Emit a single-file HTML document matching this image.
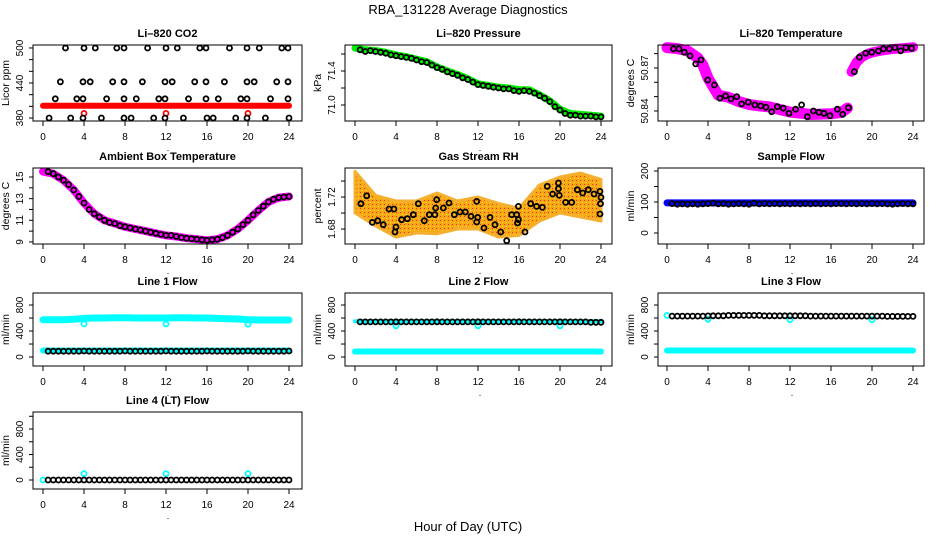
<!DOCTYPE html>
<html><head><meta charset="utf-8"><style>
html,body{margin:0;padding:0;background:#fff;}
svg{display:block;font-family:"Liberation Sans",Arial,sans-serif;}
</style></head><body>
<svg id="fig" width="936" height="540" viewBox="0 0 936 540" xmlns="http://www.w3.org/2000/svg">
<defs>
<pattern id="rhpat" width="4" height="4" patternUnits="userSpaceOnUse">
<rect width="4" height="4" fill="#f5a818"/>
<rect x="0" y="0" width="1" height="1" fill="#ee3010"/>
<rect x="2" y="2" width="1" height="1" fill="#ffe020"/>
</pattern>
</defs>
<rect x="0" y="0" width="936" height="540" fill="#fff"/>
<text x="468" y="14" text-anchor="middle" font-size="13">RBA_131228  Average Diagnostics</text>
<text x="468" y="531" text-anchor="middle" font-size="13">Hour of Day (UTC)</text>
</svg>
<script>
// ---------- data ----------
const xTicks = [0,4,8,12,16,20,24];
const halfHours = [0.5,1,1.5,2,2.5,3,3.5,4,4.5,5,5.5,6,6.5,7,7.5,8,8.5,9,9.5,10,10.5,11,11.5,12,12.5,13,13.5,14,14.5,15,15.5,16,16.5,17,17.5,18,18.5,19,19.5,20,20.5,21,21.5,22,22.5,23,23.5,24];
const hourly = [0,1,2,3,4,5,6,7,8,9,10,11,12,13,14,15,16,17,18,19,20,21,22,23,24];
const calHours = [4,12,20];

// CO2
const co2Hours = [2.2,4.0,5.1,7.2,7.9,10.2,12.0,13.1,15.3,15.9,18.2,19.9,21.1,23.3,23.9,
  1.7,3.9,4.6,6.8,7.9,9.7,11.9,12.6,14.8,15.9,17.7,19.9,20.6,22.8,23.9,
  1.2,3.3,3.9,6.2,7.9,9.1,11.3,11.9,14.2,15.9,17.1,19.3,19.9,22.2,23.9,
  0.6,2.7,3.9,5.7,7.9,8.6,10.8,11.9,13.7,16.0,16.6,18.8,19.9,21.7,24.0];
const co2Values = [500,500,500,500,500,500,500,500,500,500,500,500,500,500,500,
  442,442,442,442,442,442,442,442,442,442,442,442,442,442,442,
  413,413,413,413,413,413,413,413,413,413,413,413,413,413,413,
  380,380,380,380,380,380,380,380,380,380,380,380,380,380,380];
const co2BandHours = [0,24];
const co2BandValues = [401,401];
const co2CalValues = [388,388,388];

// Pressure
const presBand = [71.67,71.65,71.64,71.62,71.59,71.57,71.54,71.51,71.45,71.40,71.36,71.31,71.25,71.23,71.21,71.20,71.18,71.18,71.12,71.05,70.95,70.90,70.89,70.88,70.87];
const presPts = [71.65,71.63,71.64,71.63,71.62,71.61,71.59,71.58,71.57,71.56,71.55,71.53,71.51,71.50,71.47,71.44,71.42,71.39,71.37,71.35,71.32,71.30,71.27,71.24,71.23,71.22,71.21,71.20,71.19,71.19,71.17,71.16,71.17,71.16,71.14,71.11,71.08,71.04,70.98,70.94,70.90,70.88,70.88,70.87,70.87,70.87,70.86,70.86];

// Li-820 Temperature
const tempBandHours1 = [0,1,2,3,3.5,4,4.5,5,6,7,8,9,10,11,12,13,14,15,16,17,17.6];
const tempBand1 = [50.8842,50.8835,50.8820,50.8770,50.8720,50.8630,50.8570,50.8510,50.8495,50.8465,50.8445,50.8435,50.8428,50.8410,50.8392,50.8385,50.8375,50.8378,50.8380,50.8390,50.8420];
const tempBandHours2 = [18,18.5,19,19.5,20,21,22,23,24];
const tempBand2 = [50.8674,50.8740,50.8775,50.8795,50.8808,50.8822,50.8832,50.8838,50.8845];
const tempPtHours = [0.62,1.17,1.69,2.24,2.80,3.32,3.97,4.62,5.17,5.72,6.24,6.80,7.28,7.93,8.58,9.14,9.66,10.21,10.76,11.35,11.90,12.55,13.13,13.69,14.28,14.83,15.32,15.90,16.62,17.14,17.70,18.28,18.77,19.39,19.97,20.62,21.11,21.69,22.24,22.79,23.31,23.86];
const tempPts = [50.8833,50.8833,50.8810,50.8784,50.8728,50.8756,50.8616,50.8581,50.8489,50.8505,50.8484,50.8500,50.8449,50.8461,50.8442,50.8435,50.8426,50.8395,50.8430,50.8419,50.8384,50.8412,50.8442,50.8360,50.8400,50.8391,50.8384,50.8367,50.8412,50.8377,50.8423,50.8674,50.8775,50.8803,50.8810,50.8818,50.8833,50.8833,50.8842,50.8819,50.8842,50.8837];

// Ambient box temperature
const ambPts = [15.5,15.3,15.0,14.7,14.3,13.8,13.2,12.6,12.0,11.6,11.3,11.0,10.8,10.7,10.5,10.4,10.3,10.2,10.1,10.0,9.9,9.8,9.7,9.6,9.6,9.5,9.4,9.35,9.3,9.25,9.2,9.15,9.2,9.25,9.4,9.6,9.9,10.2,10.6,11.0,11.5,11.9,12.3,12.7,12.95,13.1,13.15,13.2];
const ambBand = [15.5,15.3,14.7,13.8,12.6,11.6,11.0,10.7,10.4,10.2,10.0,9.8,9.6,9.5,9.35,9.25,9.15,9.25,9.6,10.2,11.0,11.9,12.7,13.1,13.2];

// Gas stream RH
const rhBandHours = [0,2,4,6,8,10,12,14,16,18,20,22,24];
const rhBandHigh = [1.752,1.722,1.715,1.715,1.725,1.715,1.720,1.712,1.706,1.735,1.745,1.750,1.742];
const rhBandLow = [1.700,1.684,1.670,1.675,1.674,1.680,1.680,1.670,1.672,1.690,1.700,1.695,1.690];
const rhPtHours = [0.58,1.14,1.69,2.21,2.76,3.32,3.80,3.90,4.0,4.55,5.11,5.69,6.18,6.76,7.25,7.80,7.87,7.97,8.62,9.17,9.69,10.24,10.76,11.32,11.87,11.97,11.87,12.59,13.17,13.66,14.21,14.80,15.29,15.78,15.94,15.94,15.85,16.59,17.14,17.72,18.28,18.76,19.28,19.84,19.84,19.93,20.55,21.14,21.69,22.21,22.76,23.32,23.90,24.0,23.95,23.90];
const rhPts = [1.7117,1.7216,1.6883,1.6904,1.6854,1.705,1.705,1.6763,1.6825,1.6917,1.6929,1.6979,1.7117,1.6904,1.6979,1.6979,1.7063,1.7167,1.7063,1.7125,1.6979,1.7013,1.7013,1.6958,1.7146,1.6946,1.6888,1.6813,1.6946,1.6854,1.6763,1.6654,1.6979,1.6979,1.6917,1.7083,1.6875,1.6763,1.7117,1.7083,1.7071,1.7334,1.7238,1.7375,1.7304,1.7221,1.7133,1.7133,1.7292,1.725,1.7292,1.7238,1.7271,1.7196,1.7117,1.6988];

// Sample flow
const sampBand = [97,97];
const sampPts = [95,93,94,93,94,93,94,95,96,94,95,93,94,95,94,93,96,94,95,94,95,94,95,94,95,94,95,94,95,94,95,94,95,95,94,95,94,95,94,95,94,95,94,93,94,95,94,94];

// Line flows
const l1Band = [575,575,575,580,595,600,600,605,605,600,600,600,600,605,605,600,600,595,590,585,575,570,570,570,570];
const l1Cal = [510,508,505];
const l1LowBand = [100,100];
const l1Pts = [90,90,90,90,90,90,90,92,90,90,90,90,90,90,90,92,90,90,90,90,90,90,90,92,90,90,90,90,90,90,90,92,90,90,90,90,90,90,90,92,90,90,90,90,90,90,90,92];
const l2Pts = [540,540,540,540,540,540,540,542,540,540,540,540,540,540,540,542,540,540,540,540,540,540,540,542,540,540,540,540,540,540,540,542,540,540,540,540,540,540,540,542,540,540,540,540,540,535,535,535];
const l2LowBand = [85,85];
const l2Cal = [480,480,480];
const l2StartBand = [550,550];
const l3Pts = [630,630,630,630,630,630,630,632,635,635,635,640,640,640,640,640,640,640,635,635,635,635,635,635,635,635,635,630,630,630,630,630,630,630,630,630,630,630,630,630,630,630,625,625,625,625,625,625];
const l3LowBand = [100,100];
const l3Cal = [580,575,575];
const l3StartValue = [640];
const l4Pts = [0,0,0,0,0,0,0,0,0,0,0,0,0,0,0,0,0,0,0,0,0,0,0,0,0,0,0,0,0,0,0,0,0,0,0,0,0,0,0,0,0,0,0,0,0,0,0,0];
const l4Cal = [100,100,100];
const l4StartValue = [0];
const bandEnds = [0,24];
const startHour = [0];

// ---------- drawing ----------
const NS = 'http://www.w3.org/2000/svg';
const svg = document.getElementById('fig');
const cols = [{l:33,r:302,x0:43},{l:345,r:612,x0:355},{l:658,r:924,x0:667}];
const rows = [{t:45,b:121},{t:168,b:244},{t:293,b:366},{t:412,b:489}];
const XS = 10.25;

function mk(tag, attrs, parent){
  const e = document.createElementNS(NS, tag);
  for (const k in attrs) e.setAttribute(k, attrs[k]);
  (parent||svg).appendChild(e);
  return e;
}

function panel(p){
  const c = cols[p.col], r = rows[p.row];
  const g = mk('g', {});
  
  
  const sx = h => c.x0 + h*XS;
  const sy = v => r.b - (v - p.ymin)/(p.ymax - p.ymin)*(r.b - r.t);
  p.layers.forEach(L => {
    if (L.type === 'band'){
      const pts = L.x.map((h,i)=> sx(h).toFixed(1)+','+sy(L.y[i]).toFixed(1)).join(' ');
      const e = mk('polyline', {points:pts, fill:'none', stroke:L.color, 'stroke-width':L.w, 'stroke-linejoin':'round', 'stroke-linecap':'round'}, g);
      
      
    } else if (L.type === 'poly'){
      const up = L.x.map((h,i)=> sx(h).toFixed(1)+','+sy(L.hi[i]).toFixed(1));
      const dn = L.x.map((h,i)=> sx(h).toFixed(1)+','+sy(L.lo[i]).toFixed(1)).reverse();
      const e = mk('polygon', {points:up.concat(dn).join(' '), fill:L.color, stroke:L.stroke, 'stroke-width':3, 'stroke-linejoin':'round'}, g);
      
      
    } else {
      const pg = mk('g', {}, g);
      
      
      L.x.forEach((h,i)=>{
        const e = mk('circle', {cx:sx(h).toFixed(1), cy:sy(L.y[i]).toFixed(1), r:L.r||2.5, fill:'none', stroke:L.color, 'stroke-width':L.sw||1.8}, pg);
        
        
      });
    }
  });
  const bx = mk('rect', {x:c.l, y:r.t, width:c.r-c.l, height:r.b-r.t, fill:'none', stroke:'#000', 'stroke-width':1}, g);
  
  
  const tt = mk('text', {x:(c.l+c.r)/2, y:r.t-8, 'text-anchor':'middle', 'font-size':11, 'font-weight':'bold'}, g);
  tt.textContent = p.title;
  
  
  mk('line', {x1:sx(0), x2:sx(24), y1:r.b, y2:r.b, stroke:'#000'}, g);
  xTicks.forEach(h=>{
    mk('line', {x1:sx(h), x2:sx(h), y1:r.b, y2:r.b+5, stroke:'#000'}, g);
    const t = mk('text', {x:sx(h), y:r.b+19, 'text-anchor':'middle', 'font-size':10}, g);
    t.textContent = h;
    
    
  });
  const dot = mk('text', {x:sx(12)+2, y:r.b+30, 'text-anchor':'middle', 'font-size':9}, g);
  dot.textContent = '.';
  const tv = p.ticks.filter(v=> v>=p.ymin-1e-9 && v<=p.ymax+1e-9);
  mk('line', {x1:c.l, x2:c.l, y1:sy(tv[0]), y2:sy(tv[tv.length-1]), stroke:'#000'}, g);
  tv.forEach(v=>{
    mk('line', {x1:c.l-4, x2:c.l, y1:sy(v), y2:sy(v), stroke:'#000'}, g);
  });
  p.labels.forEach(v=>{
    const t = mk('text', {x:0, y:0, 'text-anchor':'middle', 'font-size':10, transform:`translate(${c.l-10},${sy(v)}) rotate(-90)`}, g);
    t.textContent = p.fmt ? v.toFixed(p.fmt) : v;
    
    
  });
  const yt = mk('text', {x:0, y:0, 'text-anchor':'middle', 'font-size':10.5, transform:`translate(${c.l-24},${(r.t+r.b)/2}) rotate(-90)`}, g);
  yt.textContent = p.ylab;
  
  
}

const flowTicks = [0,200,400,600,800,1000];
const flowLabels = [0,400,800];

panel({name:'co2-panel', title:'Li\u2013820 CO2', ylab:'Licor ppm', col:0,row:0, ymin:374.9,ymax:505.1,
  ticks:[380,400,420,440,460,480,500], labels:[380,440,500],
  layers:[{type:'band',name:'co2-band',x:co2BandHours,y:co2BandValues,color:'#ff0000',w:6},
          {type:'pts',name:'co2-cal-points',x:calHours,y:co2CalValues,color:'#ff0000'},
          {type:'pts',name:'co2-points',x:co2Hours,y:co2Values,color:'#000'}]});
panel({name:'pressure-panel', title:'Li\u2013820 Pressure', ylab:'kPa', col:1,row:0, ymin:70.812,ymax:71.706,
  ticks:[70.8,71.0,71.2,71.4,71.6], labels:[71.0,71.4], fmt:1,
  layers:[{type:'band',name:'pressure-band',x:hourly,y:presBand,color:'#00ee00',w:7},
          {type:'pts',name:'pressure-points',x:halfHours,y:presPts,color:'#000'}]});
panel({name:'li820-temp-panel', title:'Li\u2013820 Temperature', ylab:'degrees C', col:2,row:0, ymin:50.833,ymax:50.886,
  ticks:[50.84,50.85,50.86,50.87,50.88], labels:[50.84,50.87], fmt:2,
  layers:[{type:'band',name:'temp-band-1',x:tempBandHours1,y:tempBand1,color:'#ff00ff',w:11},
          {type:'band',name:'temp-band-2',x:tempBandHours2,y:tempBand2,color:'#ff00ff',w:10},
          {type:'pts',name:'temp-points',x:tempPtHours,y:tempPts,color:'#000'}]});
panel({name:'ambient-temp-panel', title:'Ambient Box Temperature', ylab:'degrees C', col:0,row:1, ymin:8.81,ymax:15.83,
  ticks:[9,10,11,12,13,14,15], labels:[9,11,13,15],
  layers:[{type:'band',name:'ambient-band',x:hourly,y:ambBand,color:'#ff00ff',w:8},
          {type:'pts',name:'ambient-points',x:halfHours,y:ambPts,color:'#000'}]});
panel({name:'rh-panel', title:'Gas Stream RH', ylab:'percent', col:1,row:1, ymin:1.6613,ymax:1.7563,
  ticks:[1.68,1.70,1.72,1.74], labels:[1.68,1.72], fmt:2,
  layers:[{type:'poly',name:'rh-band',x:rhBandHours,hi:rhBandHigh,lo:rhBandLow,color:'url(#rhpat)',stroke:'#f5b030'},
          {type:'pts',name:'rh-points',x:rhPtHours,y:rhPts,color:'#000'}]});
panel({name:'sample-flow-panel', title:'Sample Flow', ylab:'ml/min', col:2,row:1, ymin:-35.5,ymax:209.7,
  ticks:[0,50,100,150,200], labels:[0,100,200],
  layers:[{type:'band',name:'sample-band',x:bandEnds,y:sampBand,color:'#0000ff',w:7},
          {type:'pts',name:'sample-points',x:halfHours,y:sampPts,color:'#000'}]});
panel({name:'line1-flow-panel', title:'Line 1 Flow', ylab:'ml/min', col:0,row:2, ymin:-138,ymax:985,
  ticks:flowTicks, labels:flowLabels,
  layers:[{type:'band',name:'line1-high-band',x:hourly,y:l1Band,color:'#00ffff',w:7},
          {type:'pts',name:'line1-cal-points',x:calHours,y:l1Cal,color:'#00ffff'},
          {type:'band',name:'line1-low-band',x:bandEnds,y:l1LowBand,color:'#00ffff',w:6},
          {type:'pts',name:'line1-points',x:halfHours,y:l1Pts,color:'#000'}]});
panel({name:'line2-flow-panel', title:'Line 2 Flow', ylab:'ml/min', col:1,row:2, ymin:-138,ymax:985,
  ticks:flowTicks, labels:flowLabels,
  layers:[{type:'band',name:'line2-band',x:bandEnds,y:l2LowBand,color:'#00ffff',w:6},
          {type:'band',name:'line2-high-band',x:bandEnds,y:l2StartBand,color:'#00ffff',w:4},
          {type:'pts',name:'line2-cal-points',x:calHours,y:l2Cal,color:'#00ffff'},
          {type:'pts',name:'line2-points',x:halfHours,y:l2Pts,color:'#000'}]});
panel({name:'line3-flow-panel', title:'Line 3 Flow', ylab:'ml/min', col:2,row:2, ymin:-138,ymax:985,
  ticks:flowTicks, labels:flowLabels,
  layers:[{type:'band',name:'line3-band',x:bandEnds,y:l3LowBand,color:'#00ffff',w:6},
          {type:'pts',name:'line3-start-point',x:startHour,y:l3StartValue,color:'#00ffff'},
          {type:'pts',name:'line3-cal-points',x:calHours,y:l3Cal,color:'#00ffff'},
          {type:'pts',name:'line3-points',x:halfHours,y:l3Pts,color:'#000'}]});
panel({name:'line4-flow-panel', title:'Line 4 (LT) Flow', ylab:'ml/min', col:0,row:3, ymin:-141,ymax:1067,
  ticks:flowTicks, labels:flowLabels,
  layers:[{type:'pts',name:'line4-start-point',x:startHour,y:l4StartValue,color:'#00ffff'},
          {type:'pts',name:'line4-cal-points',x:calHours,y:l4Cal,color:'#00ffff'},
          {type:'pts',name:'line4-points',x:halfHours,y:l4Pts,color:'#000'}]});
</script>
</body></html>
